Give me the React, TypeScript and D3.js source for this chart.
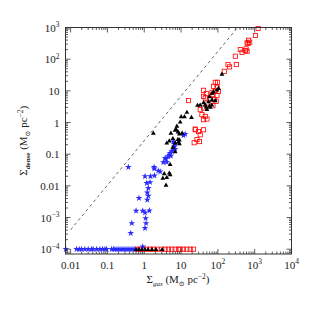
import React from 'react';
import * as d3 from 'd3';

const width = 319;
const height = 319;
const plot = { left: 65.5, right: 291.5, top: 27.5, bottom: 254 };

// blue stars
const starGas = [11.6, 12.9, 6.6, 6.2, 6.9, 6.5, 6.2, 6.9, 5.6, 5.05, 4.8, 4.5, 5.3, 3.9, 3.3, 4.1, 3.7,
  2.7, 2.4, 1.88, 1.85, 0.37, 1.05, 1.47, 1.9, 1.44, 1.17, 1.29, 1.21, 1.29, 1.21, 0.72,
  0.6, 0.91, 1.05, 1.38, 1.09, 1.12, 0.46, 1.05, 0.43, 0.91];
const starDense = [0.39, 0.43, 0.21, 0.25, 0.22, 0.17, 0.138, 0.145, 0.122, 0.108, 0.096, 0.085, 0.089, 0.07, 0.055, 0.056, 0.075,
  0.028, 0.03, 0.035, 0.039, 0.039, 0.02, 0.02, 0.021, 0.013, 0.0122, 0.0085, 0.0061, 0.0048, 0.0036, 0.0041,
  0.00163, 0.00162, 0.00143, 0.00165, 0.00095, 0.00066, 0.00066, 0.00046, 0.00032, 0.00012];

// black triangles
const triGas = [129, 104, 94.5, 76, 69, 59, 69, 85, 40.8, 45.4, 55.8, 59.4, 50.5, 62, 69, 48,
  28, 33, 14.4, 12.4, 10.1, 19.2, 9.45, 7.7, 6.9, 8.3, 7.35, 10.7, 6.0, 8.2, 9.0, 4.1,
  1.77, 5.3, 9.0, 4.8, 6.9, 8.5, 9.0, 6.0, 6.9, 5.05, 3.5, 4.8, 5.05, 3.2, 4.1, 3.9];
const triDense = [34.3, 12.4, 10.9, 9.6, 8.6, 6.7, 5.3, 5.0, 4.33, 3.66, 4.65, 3.4, 2.67, 3.1, 3.66, 3.2,
  3.58, 3.66, 2.15, 1.56, 1.56, 1.49, 1.06, 0.79, 0.59, 0.52, 0.62, 0.47, 0.32, 0.3, 0.29, 0.23,
  0.47, 0.47, 0.45, 0.27, 0.23, 0.25, 0.22, 0.17, 0.122, 0.049, 0.025, 0.026, 0.023, 0.018, 0.019, 0.0108];

// red open squares
const sqGas = [1238, 1045, 687, 731, 661, 621, 583, 407, 454, 558, 621, 298, 317, 188, 208, 149,
  85, 98, 76, 94.5, 85, 94.5, 40.8, 73.5, 80, 90, 62, 50.5, 73.5, 15.9, 33.1, 40.8, 36.9,
  45.4, 40.8, 50.5, 24.2, 29.8, 33.1, 40.8, 31.7, 27, 22.7, 48.3, 69, 104, 45.4, 40.8, 24.5];
const sqDense = [930, 558, 396, 343, 312, 328, 212, 201, 165, 187, 178, 124, 67.5, 67.5, 57, 41.4,
  18.6, 18.6, 13.9, 12.9, 9.64, 7.05, 10.4, 7.58, 5.27, 4.65, 5.54, 4.14, 3.4, 4.9, 2.54, 2.88, 1.77,
  1.56, 1.23, 1.29, 0.62, 0.52, 0.41, 0.59, 0.25, 0.29, 0.23, 8.15, 8.97, 9.64, 5.96, 6.7, 0.59];

// points sitting at the lower limit
const floorDense = 1e-4;
const floorStarGas = [0.0074, 0.0145, 0.0171, 0.0198, 0.0244, 0.03, 0.037, 0.041, 0.051, 0.0625, 0.074, 0.0855, 0.095,
  0.13, 0.146, 0.16, 0.182, 0.206, 0.233, 0.264, 0.3, 0.34, 0.385, 0.437, 0.495, 0.561];
const floorTriGas = [0.6, 0.72, 0.87, 1.05, 1.27, 1.63, 2.1, 3.05];
const floorSqGas = [0.64, 0.77, 0.93, 1.16, 1.44, 1.74, 2.23, 3.0, 3.69, 4.54, 5.61, 6.9, 8.49, 9.45, 11.6, 14.4, 17.7, 21.8];

// dashed reference line end points
const dashGas = [0.01, 344];
const dashDense = [4.1e-4, 1000];

const xTickValues = [0.01, 0.1, 1, 10, 100, 1000, 10000];
const xTickLabels = [['0.01', ''], ['0.1', ''], ['1', ''], ['10', ''], ['10', '2'], ['10', '3'], ['10', '4']];
const yTickValues = [1e-4, 1e-3, 0.01, 0.1, 1, 10, 100, 1000];
const yTickLabels = [['10', '\u22124'], ['10', '\u22123'], ['0.01', ''], ['0.1', ''], ['1', ''], ['10', ''], ['10', '2'], ['10', '3']];

const font = '"Liberation Serif", "DejaVu Serif", serif';

const Label = ({ base, sup }: { base: string; sup: string }) => (
  <>
    {base}
    {sup && <tspan dy={-4.5} fontSize={7.5}>{sup}</tspan>}
  </>
);

const App = () => {
  const x = d3.scaleLog().domain([0.00726, 10000]).range([plot.left, plot.right]);
  const y = d3.scaleLog().domain([7.05e-5, 1000]).range([plot.bottom, plot.top]);

  const isMajor = (v: number) => Math.abs(Math.log10(v) - Math.round(Math.log10(v))) < 1e-6;
  const xt = x.ticks().filter(v => x(v) >= plot.left - 0.1 && x(v) <= plot.right + 0.1);
  const yt = y.ticks().filter(v => y(v) <= plot.bottom + 0.1 && y(v) >= plot.top - 0.1);

  const star = d3.symbol(d3.symbolStar, 14)()!;
  const tri = d3.symbol(d3.symbolTriangle, 10)()!;
  const sq = 4.2;
  const blue = '#2a2aff';

  const stars = starGas.map((g, i) => [g, starDense[i]]).concat(floorStarGas.map(g => [g, floorDense]));
  const tris = triGas.map((g, i) => [g, triDense[i]]).concat(floorTriGas.map(g => [g, floorDense]));
  const sqs = sqGas.map((g, i) => [g, sqDense[i]]).concat(floorSqGas.map(g => [g, floorDense]));

  const dashLine = d3.line<number>().x(i => x(dashGas[i])).y(i => y(dashDense[i]));

  return (
    <svg width={width} height={height} style={{ position: 'absolute', left: 0, top: 0, background: '#fff' }}
      fontFamily={font}>
      <path d={dashLine([0, 1])!} stroke="#222" strokeWidth={0.7} strokeDasharray="3,3" fill="none" />

      {sqs.map(([g, d], i) => (
        <rect key={'s' + i} x={x(g) - sq / 2} y={y(d) - sq / 2} width={sq} height={sq}
          fill="none" stroke="#ff0000" strokeWidth={0.8} />
      ))}
      {stars.map(([g, d], i) => (
        <path key={'b' + i} d={star} transform={`translate(${x(g)},${y(d)})`} fill={blue} />
      ))}
      {tris.map(([g, d], i) => (
        <path key={'t' + i} d={tri} transform={`translate(${x(g)},${y(d) + 0.5})`} fill="#000" />
      ))}

      <rect x={plot.left} y={plot.top} width={plot.right - plot.left} height={plot.bottom - plot.top}
        fill="none" stroke="#333" strokeWidth={1} />

      {xt.map((v, i) => {
        const len = isMajor(v) ? 5 : 2.5;
        return (
          <g key={'xt' + i} stroke="#333" strokeWidth={0.8}>
            <line x1={x(v)} x2={x(v)} y1={plot.bottom} y2={plot.bottom - len} />
            <line x1={x(v)} x2={x(v)} y1={plot.top} y2={plot.top + len} />
          </g>
        );
      })}
      {yt.map((v, i) => {
        const len = isMajor(v) ? 5 : 2.5;
        return (
          <g key={'yt' + i} stroke="#333" strokeWidth={0.8}>
            <line y1={y(v)} y2={y(v)} x1={plot.left} x2={plot.left + len} />
            <line y1={y(v)} y2={y(v)} x1={plot.right} x2={plot.right - len} />
          </g>
        );
      })}

      {xTickValues.map((v, i) => (
        <text key={'xl' + i} x={x(v)} y={268.5} fontSize={11} textAnchor="middle" fill="#222">
          <Label base={xTickLabels[i][0]} sup={xTickLabels[i][1]} />
        </text>
      ))}
      {yTickValues.map((v, i) => (
        <text key={'yl' + i} x={59.5} y={y(v) + 4} fontSize={11} textAnchor="end" fill="#222">
          <Label base={yTickLabels[i][0]} sup={yTickLabels[i][1]} />
        </text>
      ))}

      <text x={178} y={283} fontSize={11} textAnchor="middle" fill="#222">
        Σ<tspan fontSize={7} dy={2.5} fontStyle="italic">gas</tspan>
        <tspan dy={-2.5}> (M</tspan>
        <tspan fontSize={7} dy={2.5}>⊙</tspan>
        <tspan dy={-2.5}> pc</tspan>
        <tspan fontSize={7.5} dy={-4.5}>−2</tspan>
        <tspan dy={4.5}>)</tspan>
      </text>

      <text transform={`translate(27,${(plot.top + plot.bottom) / 2}) rotate(-90)`} fontSize={11}
        textAnchor="middle" fill="#222">
        Σ<tspan fontSize={7} dy={2.5} fontWeight="bold">dense</tspan>
        <tspan dy={-2.5}> (M</tspan>
        <tspan fontSize={7} dy={2.5}>⊙</tspan>
        <tspan dy={-2.5}> pc</tspan>
        <tspan fontSize={7.5} dy={-4.5}>−2</tspan>
        <tspan dy={4.5}>)</tspan>
      </text>
    </svg>
  );
};

export default App;
